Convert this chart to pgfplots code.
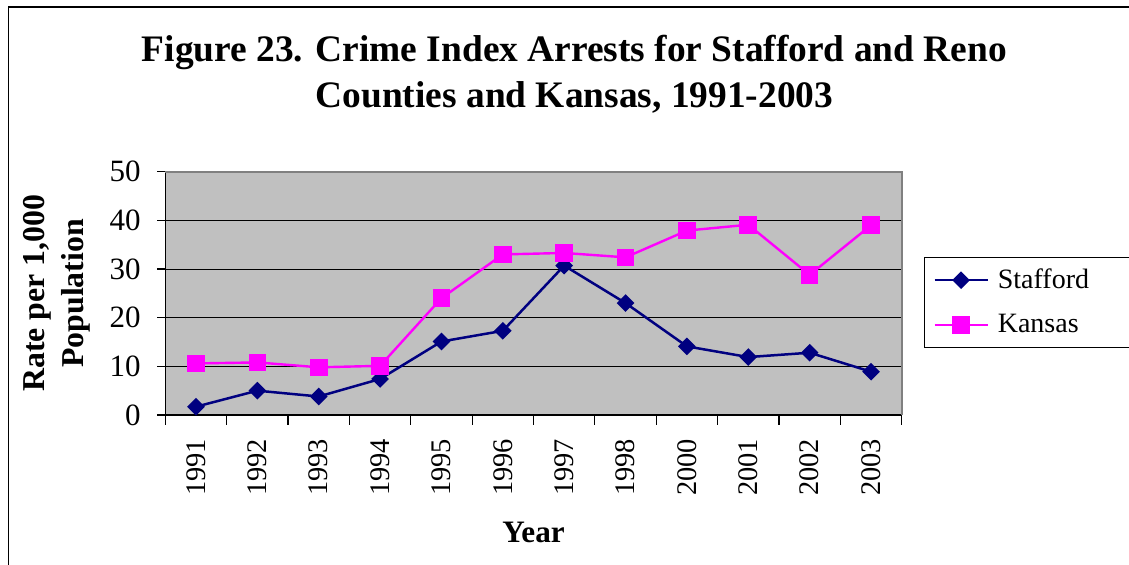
\documentclass[border=0pt]{standalone}
\usepackage{fontspec}
\setmainfont{Liberation Serif}
\usepackage{pgfplots}
\pgfplotsset{compat=1.18}
\definecolor{navy}{HTML}{000080}
\definecolor{magen}{HTML}{FF00FF}
\definecolor{plotbg}{HTML}{C0C0C0}
\definecolor{frameg}{HTML}{808080}
\begin{document}
\begin{tikzpicture}
\path[use as bounding box] (0,0) rectangle (564.5pt,282.5pt);
\clip (0,0) rectangle (564.5pt,282.5pt);
\fill[white] (0,0) rectangle (564.5pt,282.5pt);
\draw[line width=0.6pt] (4.2pt,-10pt) rectangle (600pt,279pt);
\node[anchor=base, font=\fontsize{18.7}{22}\selectfont\bfseries] at (287.2pt,251.5pt) {Figure 23. Crime Index Arrests for Stafford and Reno};
\node[anchor=base, font=\fontsize{18.7}{22}\selectfont\bfseries] at (287.2pt,228.5pt) {Counties and Kansas, 1991-2003};
\begin{axis}[
  at={(82.65pt,75pt)}, anchor=south west,
  scale only axis, width=368.2pt, height=121.65pt,
  xmin=-0.5, xmax=11.5, ymin=0, ymax=50,
  axis x line*=bottom, axis y line*=left,
  axis line style={-, black, line width=0.6pt},
  axis background/.style={fill=plotbg},
  xtick={0,...,11},
  xticklabels={1991,1992,1993,1994,1995,1996,1997,1998,2000,2001,2002,2003},
  minor xtick={-0.5,0.5,...,11.5},
  major x tick style={draw=none},
  minor tick length=5pt,
  major tick length=4pt,
  tick align=outside,
  tick style={black, line width=0.6pt},
  ytick={0,10,...,50},
  ymajorgrids,
  grid style={black, line width=0.5pt},
  /pgf/number format/assume math mode=true,
  x tick label style={font=\fontsize{14.2}{16}\selectfont, yshift=-4.5pt, rotate=90, anchor=east},
  y tick label style={font=\fontsize{15.5}{17}\selectfont, xshift=-4.8pt},
  xlabel={Year},
  xlabel style={font=\fontsize{15.6}{18}\selectfont\bfseries, at={(axis description cs:0.5,-0.481)}, anchor=center},
  ylabel={Rate per 1,000\\Population},
  ylabel style={font=\fontsize{15.9}{19.5}\selectfont\bfseries, align=center, at={(axis description cs:-0.1477,0.5)}, anchor=center},
  legend cell align=left,
  legend image code/.code={\draw[mark repeat=2,mark phase=2,#1] plot coordinates {(0pt,0pt) (13.25pt,0pt) (26.5pt,0pt)};},
  legend style={at={(axis description cs:1.0299,0.6508)}, anchor=north west,
    draw=black, line width=0.6pt, fill=white,
    font=\fontsize{14}{15.5}\selectfont, row sep=7.5pt,
    nodes={inner sep=2pt}, inner xsep=4.5pt, inner ysep=3.8pt},
  after end axis/.code={
    \draw[frameg, line width=1pt] (rel axis cs:0,1) -- (rel axis cs:1,1) -- (rel axis cs:1,0);
  },
]
\addplot[navy, line width=1.25pt, mark=square*, mark size=2.5pt, mark options={fill=navy, solid, rotate=45}]
  coordinates {(0,1.7)(1,5.0)(2,3.8)(3,7.4)(4,15.1)(5,17.3)(6,30.7)(7,23.0)(8,14.1)(9,11.9)(10,12.8)(11,8.9)};
\addlegendentry{\hspace{2.5pt}\makebox[100pt][l]{Stafford}}
\addplot[magen, line width=1.2pt, mark=square*, mark size=3.8pt, mark options={fill=magen, solid}]
  coordinates {(0,10.6)(1,10.8)(2,9.8)(3,10.1)(4,24.0)(5,33.0)(6,33.3)(7,32.4)(8,37.9)(9,39.1)(10,28.8)(11,39.0)};
\addlegendentry{\hspace{2.5pt}\makebox[100pt][l]{Kansas}}
\end{axis}
\end{tikzpicture}
\end{document}
